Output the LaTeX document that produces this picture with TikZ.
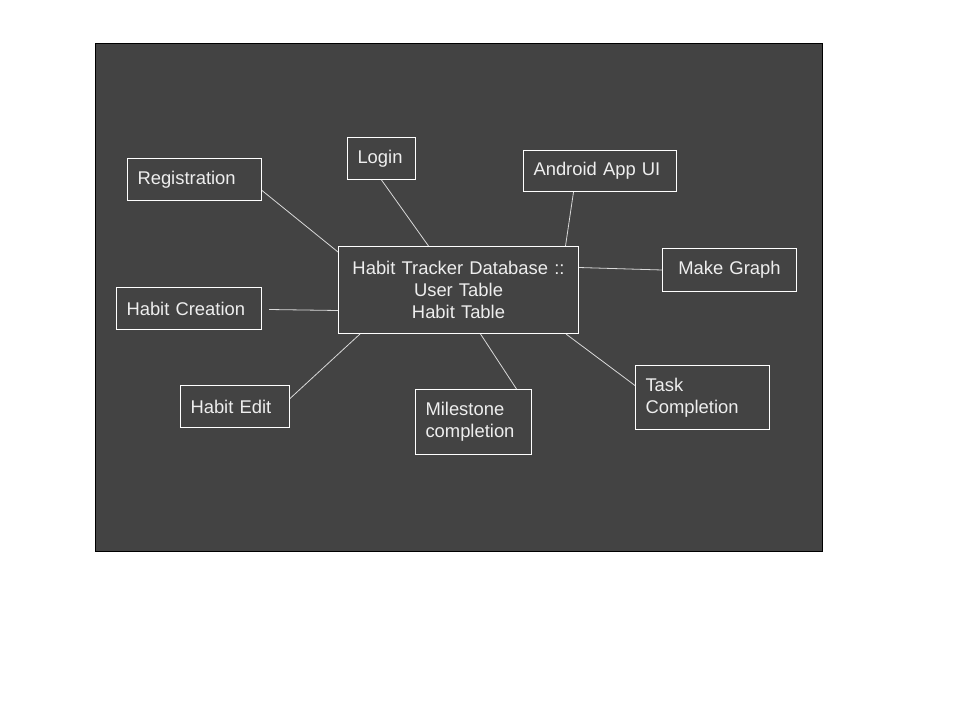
\documentclass[tikz,border=0pt]{standalone}
\usepackage{fontspec}
\setmainfont{Liberation Sans}
\usetikzlibrary{calc}
\definecolor{slate}{HTML}{434343}
\definecolor{chalk}{HTML}{EEEEEE}
\definecolor{wire}{HTML}{D9D9D9}

\begin{document}
\begin{tikzpicture}[x=1pt,y=-1pt,
	box/.style={draw=white, line width=1pt, text=chalk, anchor=north west, inner xsep=10pt, inner ysep=0pt,
		font=\fontsize{18.4}{22}\selectfont, align=left},
	link/.style={-, line width=0.8pt, wire}]
	\useasboundingbox (0,0) rectangle (960,720);
	\fill[white] (0,0) rectangle (960,720);
	\filldraw[fill=slate, draw=black, line width=0.8pt] (95,43) rectangle (822,551);
	
	% the database in the middle
	\node[box, align=center, text width=220pt, minimum width=240pt, minimum height=87pt] (db) at (338,246)
		{Habit Tracker Database ::\\User Table\\Habit Table};
	
	\node[box, text width=114pt, minimum width=134pt, minimum height=42pt] (reg) at (127,158) {Registration};
	\node[box, text width=48pt, minimum width=68pt, minimum height=42pt] (login) at (347,137) {Login};
	\node[box, text width=133pt, minimum width=153pt, minimum height=41pt] (android) at (523,150) {Android App UI};
	\node[box, align=center, text width=114pt, minimum width=134pt, minimum height=43pt] (graph) at (662,248) {Make Graph};
	\node[box, text width=125pt, minimum width=145pt, minimum height=42pt] (create) at (116,287) {Habit Creation};
	\node[box, text width=89pt, minimum width=109pt, minimum height=42pt] (edit) at (180,385) {Habit Edit};
	\node[box, text width=96pt, minimum width=116pt, minimum height=65pt] (mile) at (415,389) {Milestone\\completion};
	\node[box, text width=114pt, minimum width=134pt, minimum height=64pt] (task) at (635,365) {Task\\Completion};
	
	\coordinate (createend) at ($(create.east)+(7,1)$);
	
	\path [link] ($(reg.east)+(0,11)$) edge ($(db.north west)+(0,6)$);
	\path [link] (login.south) edge ($(db.north)+(-30,0)$);
	\path [link] ($(android.south)+(-26.5,0)$) edge ($(db.north)+(107,0)$);
	\path [link] (graph.west) edge ($(db.east)+(0,-22.5)$);
	\path [link] (createend) edge ($(db.west)+(0,20.5)$);
	\path [link] ($(edit.east)+(0,-8)$) edge ($(db.south west)+(22,0)$);
	\path [link] ($(mile.north)+(43,0)$) edge ($(db.south)+(22,0)$);
	\path [link] ($(task.west)+(0,-12)$) edge ($(db.south east)+(-13,0)$);
\end{tikzpicture}
\end{document}
